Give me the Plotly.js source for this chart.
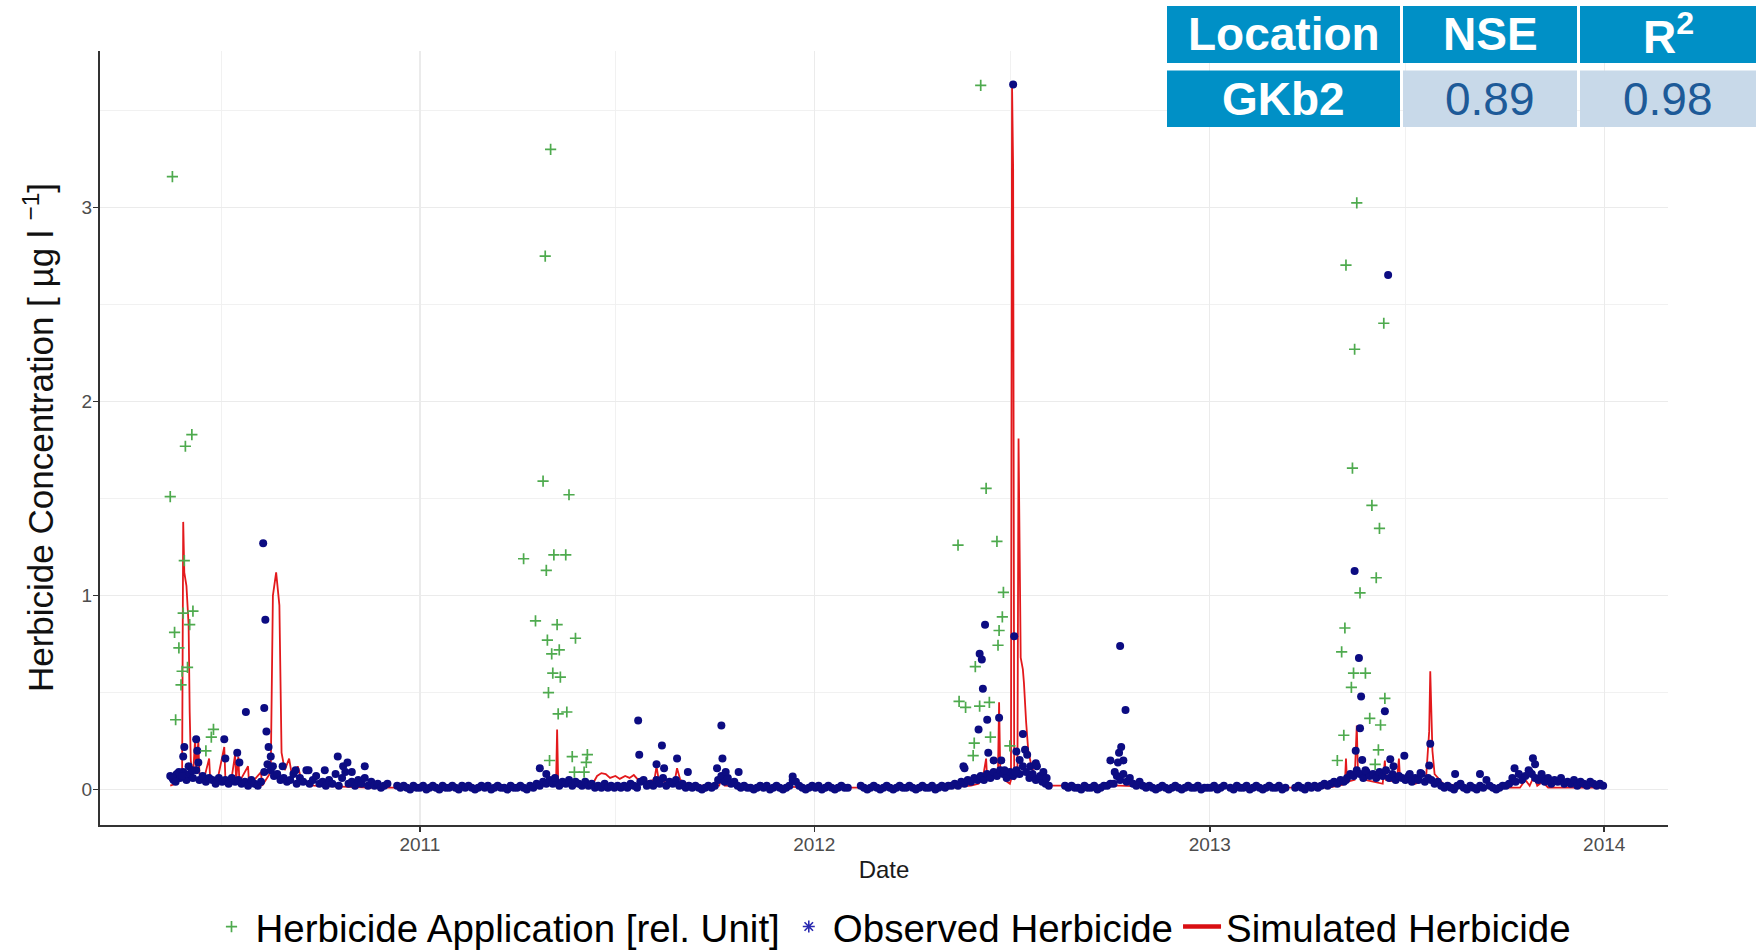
<!DOCTYPE html>
<html>
<head>
<meta charset="utf-8">
<script src="https://cdn.plot.ly/plotly-3.0.1.min.js"></script>
<style>
  html, body { margin: 0; padding: 0; background: #ffffff; }
  #chart { width: 1759px; height: 952px; }
</style>
</head>
<body>
<div id="chart"></div>
<script>
// ---------------------------------------------------------------------------
// Routine monitoring record of the observed herbicide concentration [µg/l],
// one value every third day from each start date (null = no sample).
// ---------------------------------------------------------------------------
const sampleEveryDays = 3;

const obsRoutine2010Start = '2010-05-15';
const obsRoutine2010 = [
  0.07, 0.05, 0.08, 0.06, 0.09, 0.05,                               // May
  0.08, 0.06, 0.10, 0.05, 0.07, 0.04, 0.06, 0.05, 0.03, 0.06,       // Jun
  0.04, 0.05, 0.03, 0.06, 0.04, 0.05, 0.03, 0.04, 0.02, 0.05,       // Jul
  0.03, 0.02, 0.04, 0.09, 0.13, 0.10, 0.07, 0.08, 0.05, 0.06, 0.04, // Aug
  0.05, 0.08, 0.03, 0.06, 0.04, 0.10, 0.03, 0.05, 0.07, 0.03,       // Sep
  0.04, 0.02, 0.05, 0.03, 0.08, 0.02, 0.06, 0.09, 0.03, 0.04,       // Oct
  0.02, 0.05, 0.03, 0.06, 0.02, 0.04, 0.02, 0.03, 0.01, 0.02,       // Nov
  0.03, null, null, 0.02, 0.01, 0.02, 0.01, 0.00, 0.02, 0.01        // Dec
];

const obsRoutine2011Start = '2011-01-01';
const obsRoutine2011 = [
  0.01, 0.02, 0.00, 0.01, 0.02, 0.01, 0.00, 0.02, 0.01, 0.01, 0.02, // Jan
  0.01, 0.00, 0.02, 0.01, 0.02, 0.01, 0.00, 0.01, 0.02,             // Feb
  0.01, 0.02, 0.00, 0.01, 0.02, 0.01, 0.01, 0.00, 0.02, 0.01,       // Mar
  0.01, 0.02, 0.01, 0.00, 0.02, 0.01, 0.03, 0.02, 0.04, 0.03,       // Apr
  0.05, 0.03, 0.04, 0.02, 0.04, 0.03, 0.05, 0.02, 0.04, 0.03, 0.02, // May
  0.04, 0.02, 0.03, 0.01, 0.02, 0.01, 0.03, 0.01, 0.02, 0.01,       // Jun
  0.02, 0.01, 0.02, 0.01, 0.03, 0.02, 0.01, 0.04, 0.05, 0.02,       // Jul
  0.03, 0.02, 0.05, 0.03, 0.06, 0.02, 0.04, 0.03, 0.05, 0.02,       // Aug
  0.03, 0.01, 0.02, 0.01, 0.02, 0.01, 0.00, 0.01, 0.02, 0.01,       // Sep
  0.02, 0.05, 0.07, 0.04, 0.06, 0.03, 0.04, 0.02, 0.01, 0.02, 0.01, // Oct
  0.01, 0.00, 0.01, 0.02, 0.01, 0.02, 0.00, 0.01, 0.02, 0.01,       // Nov
  0.00, 0.01, 0.02, 0.05, 0.04, 0.02, 0.01, 0.00, 0.01, 0.02        // Dec
];

const obsRoutine2012Start = '2012-01-02';
const obsRoutine2012 = [
  0.01, 0.02, 0.00, 0.01, 0.02, 0.01, 0.00, 0.01, 0.02, 0.01,       // Jan
  0.01, null, null, null, 0.02, 0.01, 0.00, 0.01, 0.02, 0.01,       // Feb
  0.00, 0.01, 0.02, 0.01, 0.00, 0.01, 0.02, 0.01, 0.01, 0.02,       // Mar
  0.01, 0.00, 0.01, 0.02, 0.01, 0.01, 0.02, 0.00, 0.01, 0.02,       // Apr
  0.01, 0.02, 0.02, 0.03, 0.02, 0.04, 0.03, 0.05, 0.04, 0.06, 0.05, // May
  0.07, 0.05, 0.08, 0.06, 0.09, 0.07, 0.10, 0.08, 0.06, 0.09,       // Jun
  0.07, 0.10, 0.08, 0.12, 0.09, 0.06, 0.08, 0.05, 0.06, 0.04,       // Jul
  0.03, 0.02, null, null, null, null, 0.02, 0.01, 0.02, 0.01,       // Aug
  0.01, 0.00, 0.02, 0.01, 0.01, 0.02, 0.00, 0.01, 0.02, 0.02,       // Sep
  0.03, 0.03, 0.07, 0.05, 0.08, 0.04, 0.06, 0.03, 0.02, 0.04, 0.02, // Oct
  0.01, 0.02, 0.01, 0.00, 0.01, 0.02, 0.01, 0.00, 0.01, 0.02,       // Nov
  0.01, 0.00, 0.01, 0.02, 0.01, 0.01, 0.02, 0.00, 0.01, 0.01        // Dec
];

const obsRoutine2013Start = '2013-01-02';
const obsRoutine2013 = [
  0.01, 0.02, 0.00, 0.01, 0.02, null, 0.01, 0.00, 0.02, 0.01,       // Jan
  0.01, 0.02, 0.00, 0.01, 0.02, 0.01, 0.00, 0.01, 0.02, 0.01,       // Feb
  0.01, 0.02, 0.00, 0.01, null, null, 0.01, 0.02, 0.01, 0.00,       // Mar
  0.02, 0.01, 0.02, 0.01, 0.02, 0.03, 0.02, 0.03, 0.04, 0.03,       // Apr
  0.05, 0.04, 0.06, 0.08, 0.07, 0.10, 0.08, 0.06, 0.09, 0.07,       // May
  0.08, 0.06, 0.09, 0.07, 0.10, 0.06, 0.08, 0.05, 0.07, 0.06,       // Jun
  0.05, 0.07, 0.04, 0.06, 0.05, 0.08, 0.04, 0.06, 0.05, 0.03, 0.04, // Jul
  0.02, 0.01, 0.02, 0.01, 0.00, 0.02, 0.03, 0.01, 0.00, 0.02,       // Aug
  0.01, 0.00, 0.02, 0.01, 0.05, 0.02, 0.01, 0.00, 0.01, 0.02,       // Sep
  0.02, 0.03, 0.06, 0.04, 0.08, 0.05, 0.07, 0.10, 0.08, 0.06,       // Oct
  0.05, 0.07, 0.04, 0.06, 0.03, 0.05, 0.04, 0.06, 0.03, 0.04,       // Nov
  0.03, 0.05, 0.02, 0.04, 0.03, 0.02, 0.04, 0.03, 0.02, 0.03, 0.02  // Dec
];

// Additional event samples of the observed herbicide concentration
const obsEventDates = [
  '2010-05-17', '2010-05-20', '2010-05-23', '2010-05-26', '2010-05-27', '2010-05-28',
  '2010-06-01', '2010-06-04', '2010-06-08', '2010-06-09', '2010-06-10',
  '2010-07-04', '2010-07-05', '2010-07-16', '2010-07-18', '2010-07-24',
  '2010-08-09', '2010-08-10', '2010-08-11', '2010-08-12', '2010-08-14', '2010-08-16',
  '2010-08-18', '2010-08-27', '2010-09-08', '2010-09-20', '2010-10-05', '2010-10-17',
  '2010-10-22', '2010-10-26', '2010-10-30', '2010-11-11',
  '2011-04-22', '2011-04-28', '2011-05-06', '2011-07-22', '2011-07-23', '2011-08-08',
  '2011-08-13', '2011-08-15', '2011-08-27', '2011-09-06', '2011-10-03', '2011-10-07',
  '2011-10-08', '2011-10-11', '2011-10-23', '2011-12-12',
  '2012-05-18', '2012-05-19', '2012-06-01', '2012-06-02', '2012-06-04', '2012-06-05',
  '2012-06-07', '2012-06-09', '2012-06-10', '2012-06-15', '2012-06-20', '2012-06-22',
  '2012-06-25', '2012-07-03', '2012-07-04', '2012-07-05', '2012-07-06', '2012-07-09',
  '2012-07-12', '2012-07-14', '2012-07-16', '2012-07-19', '2012-07-24', '2012-07-25',
  '2012-07-28', '2012-07-31', '2012-08-03', '2012-10-01', '2012-10-05', '2012-10-08',
  '2012-10-09', '2012-10-10', '2012-10-11', '2012-10-13', '2012-10-15',
  '2013-05-07', '2013-05-15', '2013-05-16', '2013-05-19', '2013-05-20', '2013-05-21',
  '2013-05-22', '2013-05-25', '2013-06-12', '2013-06-15', '2013-06-17', '2013-06-20',
  '2013-06-30', '2013-07-05', '2013-07-15', '2013-07-23', '2013-07-24', '2013-08-16',
  '2013-09-08', '2013-10-10', '2013-10-24', '2013-10-27', '2013-10-29', '2013-11-04'
];
const obsEventValues = [
  0.06, 0.04, 0.09, 0.07, 0.17, 0.22,
  0.12, 0.10, 0.26, 0.20, 0.14,
  0.26, 0.16, 0.19, 0.14, 0.40,
  1.27, 0.42, 0.875, 0.30, 0.22, 0.17,
  0.12, 0.12, 0.10, 0.10, 0.10, 0.17,
  0.12, 0.14, 0.09, 0.12,
  0.11, 0.08, 0.06, 0.356, 0.18, 0.13,
  0.227, 0.11, 0.16, 0.09, 0.11, 0.33,
  0.16, 0.09, 0.09, 0.067,
  0.12, 0.11, 0.31, 0.70, 0.67, 0.52,
  0.85, 0.36, 0.19, 0.15, 0.37, 0.15,
  0.10, 3.635, 0.79, 0.09, 0.196, 0.153,
  0.287, 0.205, 0.18, 0.12, 0.136, 0.12,
  0.07, 0.09, 0.06, 0.15, 0.09, 0.14,
  0.19, 0.74, 0.22, 0.15, 0.41,
  0.05, 1.127, 0.20, 0.678, 0.316, 0.48,
  0.153, 0.10, 0.404, 2.653, 0.157, 0.12,
  0.175, 0.08, 0.085, 0.124, 0.236, 0.08,
  0.08, 0.11, 0.09, 0.162, 0.13, 0.08
];

// Herbicide application (relative units)
const appDates = [
  '2010-05-15', '2010-05-17', '2010-05-19', '2010-05-20', '2010-05-23', '2010-05-25',
  '2010-05-26', '2010-05-27', '2010-05-28', '2010-05-29', '2010-05-31', '2010-06-02',
  '2010-06-04', '2010-06-05', '2010-06-17', '2010-06-22', '2010-06-24',
  '2011-04-07', '2011-04-18', '2011-04-25', '2011-04-27', '2011-04-28', '2011-04-29',
  '2011-04-30', '2011-05-01', '2011-05-02', '2011-05-03', '2011-05-04', '2011-05-05',
  '2011-05-08', '2011-05-09', '2011-05-10', '2011-05-11', '2011-05-16', '2011-05-17',
  '2011-05-19', '2011-05-22', '2011-05-24', '2011-05-25', '2011-06-02', '2011-06-04',
  '2011-06-05',
  '2012-05-13', '2012-05-14', '2012-05-20', '2012-05-27', '2012-05-28', '2012-05-29',
  '2012-06-02', '2012-06-03', '2012-06-08', '2012-06-11', '2012-06-12', '2012-06-18',
  '2012-06-19', '2012-06-20', '2012-06-23', '2012-06-24', '2012-06-30',
  '2013-04-29', '2013-05-03', '2013-05-05', '2013-05-06', '2013-05-07', '2013-05-12',
  '2013-05-13', '2013-05-14', '2013-05-15', '2013-05-17', '2013-05-20', '2013-05-25',
  '2013-05-29', '2013-05-31', '2013-06-03', '2013-06-04', '2013-06-06', '2013-06-07',
  '2013-06-08', '2013-06-11', '2013-06-12'
];
const appValues = [
  1.51, 3.16, 0.81, 0.36, 0.73, 0.54,
  0.61, 0.91, 1.18, 1.77, 0.63, 0.85,
  1.83, 0.92, 0.20, 0.27, 0.31,
  1.19, 0.87, 1.59, 2.75, 1.13, 0.77,
  0.50, 0.15, 3.30, 0.70, 0.60, 1.21,
  0.85, 0.39, 0.72, 0.58, 1.21, 0.40,
  1.52, 0.17, 0.09, 0.78, 0.09, 0.14,
  0.18,
  1.26, 0.455, 0.424, 0.175, 0.24, 0.634,
  0.43, 3.63, 1.553, 0.45, 0.27, 1.28,
  0.744, 0.82, 0.89, 1.017, 0.225,
  0.15, 0.71, 0.28, 0.833, 2.704, 0.527,
  1.657, 0.60, 2.27, 3.024, 1.014, 0.60,
  0.367, 1.465, 0.13, 1.092, 0.205, 1.347,
  0.333, 2.404, 0.47
];

// Simulated herbicide concentration [µg/l]
const simDates = [
  '2010-05-15', '2010-05-20', '2010-05-24', '2010-05-26', '2010-05-27', '2010-05-28',
  '2010-05-30', '2010-06-01', '2010-06-02', '2010-06-03', '2010-06-05', '2010-06-07',
  '2010-06-08', '2010-06-10', '2010-06-11', '2010-06-15', '2010-06-20', '2010-06-21',
  '2010-06-27', '2010-07-04', '2010-07-05', '2010-07-10', '2010-07-14', '2010-07-15',
  '2010-07-17', '2010-07-18', '2010-07-26', '2010-07-27', '2010-08-07', '2010-08-08',
  '2010-08-16', '2010-08-18', '2010-08-21', '2010-08-24', '2010-08-26', '2010-08-29',
  '2010-09-02', '2010-09-05', '2010-09-10', '2010-09-14', '2010-09-25', '2010-11-15',
  '2011-01-15', '2011-03-15', '2011-04-25', '2011-05-07', '2011-05-08', '2011-05-09',
  '2011-05-20', '2011-06-10', '2011-06-14', '2011-06-18', '2011-06-22', '2011-06-26',
  '2011-07-01', '2011-07-05', '2011-07-10', '2011-07-14', '2011-07-18', '2011-07-22',
  '2011-07-28', '2011-08-06', '2011-08-08', '2011-08-10', '2011-08-20', '2011-08-25',
  '2011-08-27', '2011-08-30', '2011-09-08', '2011-10-05', '2011-10-07', '2011-10-10',
  '2012-01-15', '2012-05-01', '2012-05-25', '2012-06-01', '2012-06-05', '2012-06-08',
  '2012-06-09', '2012-06-14', '2012-06-19', '2012-06-20', '2012-06-21', '2012-06-25',
  '2012-06-30', '2012-07-01', '2012-07-02', '2012-07-03', '2012-07-04', '2012-07-07',
  '2012-07-08', '2012-07-10', '2012-07-12', '2012-07-13', '2012-07-15', '2012-07-17',
  '2012-07-20', '2012-07-25', '2012-08-05', '2012-10-09', '2012-12-01',
  '2013-04-20', '2013-05-01', '2013-05-06', '2013-05-07', '2013-05-08', '2013-05-15',
  '2013-05-17', '2013-05-18', '2013-05-20', '2013-05-25', '2013-06-10', '2013-06-12',
  '2013-06-13', '2013-06-23', '2013-06-25', '2013-06-26', '2013-07-10', '2013-07-20',
  '2013-07-23', '2013-07-24', '2013-07-26', '2013-07-28', '2013-08-05', '2013-09-01',
  '2013-10-15', '2013-10-20', '2013-10-24', '2013-10-28', '2013-10-31', '2013-11-05',
  '2013-11-10', '2013-12-31'
];
const simValues = [
  0.02, 0.03, 0.05, 0.10, 1.38, 1.12,
  1.05, 0.85, 0.40, 0.15, 0.06, 0.26,
  0.10, 0.25, 0.08, 0.05, 0.16, 0.05,
  0.03, 0.22, 0.06, 0.03, 0.18, 0.05,
  0.17, 0.04, 0.12, 0.02, 0.09, 0.02,
  0.09, 1.00, 1.12, 0.95, 0.19, 0.10,
  0.16, 0.06, 0.12, 0.04, 0.02, 0.01,
  0.01, 0.01, 0.02, 0.03, 0.31, 0.04,
  0.03, 0.03, 0.07, 0.085, 0.08, 0.06,
  0.07, 0.055, 0.07, 0.06, 0.075, 0.05,
  0.04, 0.05, 0.12, 0.05, 0.03, 0.05,
  0.11, 0.05, 0.02, 0.02, 0.06, 0.02,
  0.01, 0.01, 0.02, 0.03, 0.06, 0.16,
  0.05, 0.08, 0.10, 0.45, 0.12, 0.05,
  0.03, 0.05, 3.63, 3.20, 0.05, 0.10,
  1.81, 0.68, 0.62, 0.55, 0.35, 0.20,
  0.12, 0.05, 0.02, 0.02, 0.01,
  0.01, 0.02, 0.03, 0.16, 0.04, 0.05,
  0.33, 0.10, 0.08, 0.05, 0.03, 0.15,
  0.05, 0.04, 0.16, 0.06, 0.03, 0.05,
  0.30, 0.61, 0.20, 0.08, 0.03, 0.01,
  0.01, 0.05, 0.02, 0.07, 0.02, 0.04,
  0.01, 0.01
];

// Goodness-of-fit table
const tableHeader = ['Location', 'NSE', 'R<sup>2</sup>'];
const tableRow = ['GKb2', '0.89', '0.98'];

// ---------------------------------------------------------------------------
const W = 1759, H = 952;
const FONT = 'Liberation Sans, Arial, Helvetica, sans-serif';

function shiftDate(start, days) {
  const d = new Date(start + 'T00:00:00Z');
  d.setUTCDate(d.getUTCDate() + days);
  return d.toISOString().slice(0, 10);
}

const obsX = [], obsY = [];
[[obsRoutine2010Start, obsRoutine2010], [obsRoutine2011Start, obsRoutine2011],
 [obsRoutine2012Start, obsRoutine2012], [obsRoutine2013Start, obsRoutine2013]]
  .forEach(([start, vals]) => {
    vals.forEach((v, k) => {
      if (v !== null) { obsX.push(shiftDate(start, k * sampleEveryDays)); obsY.push(v); }
    });
  });
obsEventDates.forEach((d, k) => { obsX.push(d); obsY.push(obsEventValues[k]); });

const colGreen = '#4EAA4E', colBlue = '#0C0C82', colRed = '#E3191C';

const traces = [
  {
    type: 'scatter', mode: 'lines', name: 'Simulated Herbicide',
    x: simDates, y: simValues, legendgroup: 'sim', showlegend: false,
    line: { color: colRed, width: 1.8 }, hoverinfo: 'x+y'
  },
  {
    type: 'scatter', mode: 'markers', name: 'Observed Herbicide',
    x: obsX, y: obsY, legendgroup: 'obs', showlegend: false,
    marker: { symbol: 'circle', size: 8, color: colBlue, line: { width: 0 } },
    hoverinfo: 'x+y'
  },
  {
    type: 'scatter', mode: 'markers', name: 'Herbicide Application [rel. Unit]',
    x: appDates, y: appValues, legendrank: 1,
    marker: { symbol: 'cross-thin-open', size: 8, color: colGreen, line: { color: colGreen, width: 1.7 } },
    hoverinfo: 'x+y'
  },
  {
    // legend key for the observed samples
    type: 'scatter', mode: 'markers', name: 'Observed Herbicide',
    x: [null], y: [null], legendgroup: 'obs', legendrank: 2,
    marker: { symbol: 'asterisk-open', size: 10, color: '#2A2AB0', line: { color: '#2A2AB0', width: 1.6 } },
    hoverinfo: 'skip'
  },
  {
    // legend key for the simulated series
    type: 'scatter', mode: 'lines', name: 'Simulated Herbicide',
    x: [null], y: [null], legendgroup: 'sim', legendrank: 3,
    line: { color: '#D90F12', width: 4.5 }, hoverinfo: 'skip'
  }
];

// table cells
const colEdges = [[1167, 1400], [1403, 1577], [1580, 1756]];
const rowEdges = [[6, 63], [70.5, 127]];
const shapes = [], annotations = [];
const cellBlue = '#0090C6', cellLight = '#C8D9E9', textBlue = '#1D5A98';
[tableHeader, tableRow].forEach((row, r) => {
  row.forEach((txt, c) => {
    const blue = (r === 0 || c === 0);
    const [x0, x1] = colEdges[c], [y0, y1] = rowEdges[r];
    shapes.push({
      type: 'rect', xref: 'paper', yref: 'paper', layer: 'above',
      x0: x0 / W, x1: x1 / W, y0: 1 - y1 / H, y1: 1 - y0 / H,
      fillcolor: blue ? cellBlue : cellLight, line: { width: 0 }
    });
    annotations.push({
      xref: 'paper', yref: 'paper', x: (x0 + x1) / 2 / W, y: 1 - (y0 + y1) / 2 / H,
      xanchor: 'center', yanchor: 'middle', showarrow: false, text: txt,
      font: { family: FONT, size: 46, color: blue ? '#FFFFFF' : textBlue,
              weight: blue ? 'bold' : 'normal' }
    });
  });
});

const gridCol = '#EBEBEB';
const layout = {
  width: W, height: H,
  margin: { l: 0, r: 0, t: 0, b: 0, pad: 0, autoexpand: false },
  paper_bgcolor: '#FFFFFF', plot_bgcolor: '#FFFFFF',
  font: { family: FONT, color: '#000000' },
  showlegend: true,
  xaxis: {
    type: 'date', domain: [100 / W, 1668 / W], range: ['2010-03-11', '2014-03-01'],
    tick0: '2011-01-01', dtick: 'M12', tickformat: '%Y',
    ticks: 'outside', ticklen: 5, tickwidth: 1.5, tickcolor: '#333333', ticklabelstandoff: -3,
    tickfont: { family: FONT, size: 19, color: '#4D4D4D' },
    showline: true, linecolor: '#333333', linewidth: 2,
    showgrid: true, gridcolor: gridCol, gridwidth: 1.3, zeroline: false,
    minor: { tick0: '2010-07-01', dtick: 'M6', showgrid: true, gridcolor: '#EFEFEF', gridwidth: 0.9, ticks: '' },
    title: { text: 'Date', font: { family: FONT, size: 24, color: '#1A1A1A' }, standoff: 7 },
    automargin: false, fixedrange: true
  },
  yaxis: {
    domain: [1 - 824.5 / H, 1 - 50.5 / H], range: [-0.18, 3.81],
    tick0: 0, dtick: 1,
    ticks: 'outside', ticklen: 5, tickwidth: 1.5, tickcolor: '#333333', ticklabelstandoff: -3,
    tickfont: { family: FONT, size: 19, color: '#4D4D4D' },
    showline: true, linecolor: '#333333', linewidth: 2,
    showgrid: true, gridcolor: gridCol, gridwidth: 1.3, zeroline: false,
    minor: { tick0: 0, dtick: 0.5, showgrid: true, gridcolor: '#EFEFEF', gridwidth: 0.9, ticks: '' },
    title: { text: 'Herbicide Concentration [ µg l <sup>−1</sup>]',
             font: { family: FONT, size: 35, color: '#111111' }, standoff: 17 },
    automargin: false, fixedrange: true
  },
  legend: {
    orientation: 'h', xref: 'paper', yref: 'paper',
    x: 892 / W, xanchor: 'center', y: -7 / H, yanchor: 'bottom',
    font: { family: FONT, size: 38.5, color: '#000000' }, itemwidth: 38,
    bgcolor: 'rgba(0,0,0,0)', borderwidth: 0, itemclick: false, itemdoubleclick: false
  },
  shapes: shapes,
  annotations: annotations
};

Plotly.newPlot('chart', traces, layout, { displayModeBar: false, staticPlot: true });
</script>
</body>
</html>
